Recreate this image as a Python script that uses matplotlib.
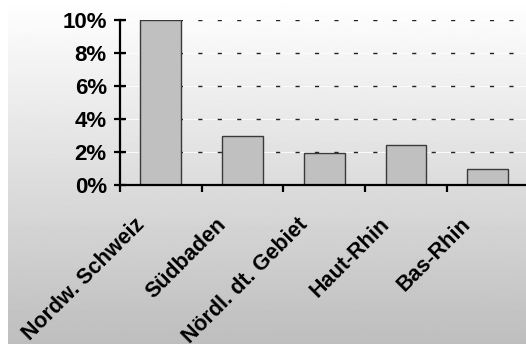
import numpy as np
import matplotlib.pyplot as plt
from matplotlib.ticker import FuncFormatter, FixedLocator

plt.rcParams['font.family'] = ['Liberation Sans', 'DejaVu Sans']
plt.rcParams['font.weight'] = 'bold'

regions = ['Nordw. Schweiz', 'Südbaden', 'Nördl. dt. Gebiet', 'Haut-Rhin', 'Bas-Rhin']
shares = [10.0, 3.0, 1.95, 2.4, 0.95]
yticks = [0, 2, 4, 6, 8, 10]

fig = plt.figure(figsize=(5.26, 3.51), dpi=100)
fig.patch.set_facecolor('white')

# grey gradient panel behind everything
bg = fig.add_axes([8 / 526, 7 / 351, 1 - 8 / 526, 344 / 351], zorder=0)
grad = np.linspace(1.0, 0.745, 256).reshape(-1, 1)
bg.imshow(grad, aspect='auto', cmap='gray', vmin=0, vmax=1, extent=[0, 1, 0, 1])
bg.axis('off')

ax = fig.add_axes([120 / 526, 166 / 351, 408.5 / 526, 165 / 351], zorder=1)
ax.patch.set_alpha(0)

x = np.arange(len(regions))
for y in yticks[1:]:
    ax.axhline(y, color='white', lw=0.8, alpha=0.8, zorder=0.5)
    ax.axhline(y, color='#222222', lw=1.0, ls=(0, (3, 11)), zorder=0.6)

ax.bar(x, shares, width=0.5, color='#c0c0c0', edgecolor='#3a3a3a', lw=1.0, zorder=2)

ax.set_xlim(-0.5, len(regions) - 0.5)
ax.set_ylim(0, 10)
ax.set_yticks(yticks)
ax.yaxis.set_major_formatter(FuncFormatter(lambda v, p: f'{v:.0f}%'))
ax.xaxis.set_major_locator(FixedLocator(np.arange(-0.5, len(regions) + 0.5)))
ax.set_xticklabels([])

for s in ['top', 'right']:
    ax.spines[s].set_visible(False)
for s in ['left', 'bottom']:
    ax.spines[s].set_linewidth(1.6)

ax.tick_params(axis='y', direction='inout', length=9, width=1.6, labelsize=16, pad=5)
ax.tick_params(axis='x', direction='out', length=5, width=1.6)

for i, name in enumerate(regions):
    ax.text(i - 0.24, -2.2, name, rotation=45, rotation_mode='anchor',
            ha='right', va='center', fontsize=15.5, fontweight='bold')

fig.savefig('out.png', dpi=100)
